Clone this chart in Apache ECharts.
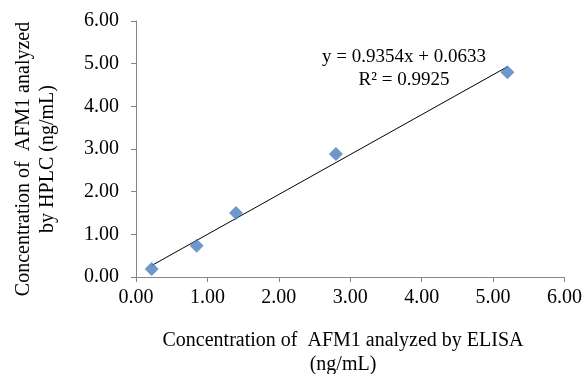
<!DOCTYPE html>
<html>
<head>
<meta charset="utf-8">
<script src="https://cdn.jsdelivr.net/npm/echarts@6/dist/echarts.min.js"></script>
<style>
  html, body { margin: 0; padding: 0; background: #fff; }
  #chart { width: 585px; height: 374px; }
</style>
</head>
<body>
<div id="chart"></div>
<script>
// ELISA (x) vs HPLC (y), ng/mL
var elisa = [0.22, 0.85, 1.40, 2.80, 5.20];
var hplc = [0.19, 0.73, 1.50, 2.88, 4.80];
// linear trendline from the fit
var slope = 0.9354;
var intercept = 0.0633;
var rSquared = 0.9925;
var axisTicks = [0, 1, 2, 3, 4, 5, 6];

var chartDom = document.getElementById("chart");
var myChart = echarts.init(chartDom);

var points = elisa.map(function (x, i) { return [x, hplc[i]]; });
var xMin = Math.min.apply(null, elisa);
var xMax = Math.max.apply(null, elisa);
var trend = [
  [xMin, slope * xMin + intercept],
  [xMax, slope * xMax + intercept]
];

var serif = "'Liberation Serif', 'Times New Roman', serif";
var axisGray = "#868686";

var option = {
  animation: false,
  backgroundColor: "#fff",
  textStyle: { fontFamily: serif },
  grid: { left: 136, right: 18, top: 21, bottom: 97 },
  xAxis: {
    type: "value",
    min: axisTicks[0],
    max: axisTicks[axisTicks.length - 1],
    interval: 1,
    axisLine: { show: true, lineStyle: { color: axisGray, width: 1 } },
    axisTick: { show: true, length: 5, lineStyle: { color: axisGray } },
    splitLine: { show: false },
    axisLabel: {
      color: "#000", fontSize: 20, fontFamily: serif, margin: 11,
      formatter: function (v) { return v.toFixed(2); }
    }
  },
  yAxis: {
    type: "value",
    min: axisTicks[0],
    max: axisTicks[axisTicks.length - 1],
    interval: 1,
    axisLine: { show: true, lineStyle: { color: axisGray, width: 1 } },
    axisTick: { show: true, length: 5, lineStyle: { color: axisGray } },
    splitLine: { show: false },
    axisLabel: {
      color: "#000", fontSize: 20, fontFamily: serif, margin: 17,
      formatter: function (v) { return v.toFixed(2); }
    }
  },
  graphic: [
    {
      type: "text",
      x: 404, y: 46,
      style: {
        text: "y = " + slope + "x + " + intercept + "\nR² = " + rSquared,
        fontSize: 19, fontFamily: serif, fill: "#000",
        align: "center", lineHeight: 23
      }
    },
    {
      type: "text",
      x: 343, y: 329,
      style: {
        text: "Concentration of  AFM1 analyzed by ELISA\n(ng/mL)",
        fontSize: 20, fontFamily: serif, fill: "#000",
        align: "center", lineHeight: 24
      }
    },
    {
      type: "text",
      x: 12, y: 159,
      rotation: Math.PI / 2,
      style: {
        text: "Concentration of  AFM1 analyzed\nby HPLC (ng/mL)",
        fontSize: 20, fontFamily: serif, fill: "#000",
        align: "center", verticalAlign: "top", lineHeight: 24
      }
    }
  ],
  series: [
    {
      name: "trend",
      type: "line",
      data: trend,
      symbol: "none",
      lineStyle: { color: "#000", width: 1 },
      z: 1
    },
    {
      name: "data",
      type: "scatter",
      data: points,
      symbol: "diamond",
      symbolSize: [14, 14],
      itemStyle: { color: "#4a7ebb" },
      z: 2
    }
  ]
};
option && myChart.setOption(option);
</script>
</body>
</html>
